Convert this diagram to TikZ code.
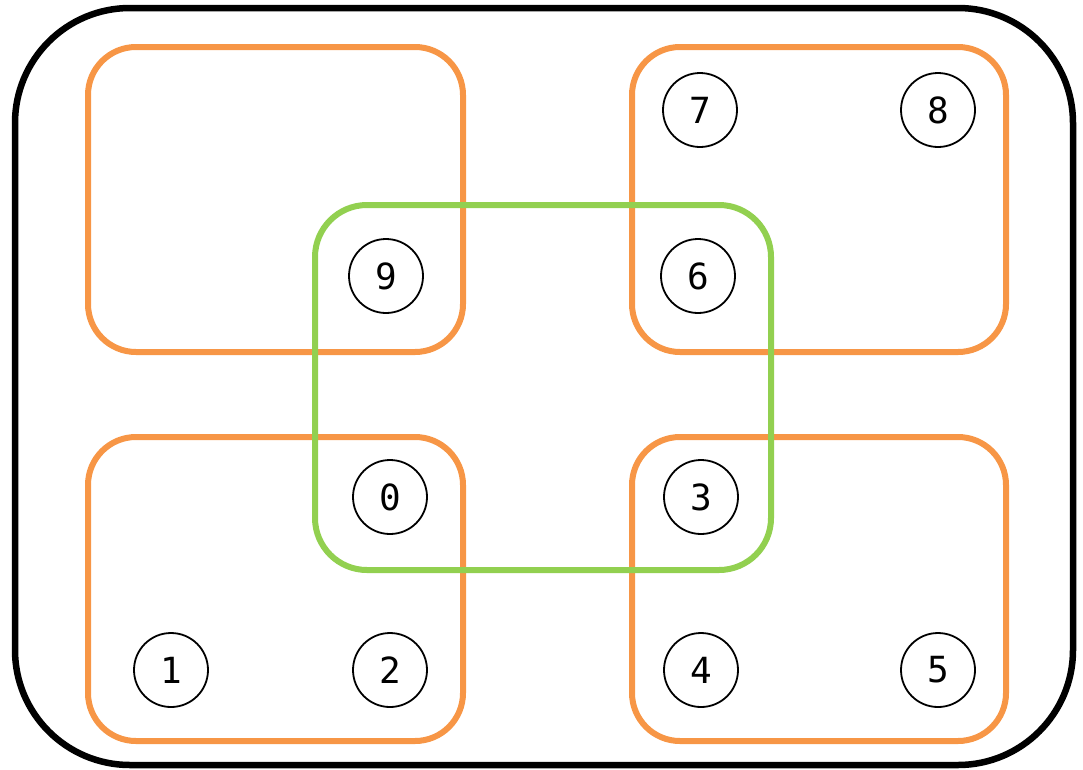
\documentclass[tikz,border=0pt]{standalone}
\usepackage{fontspec}
\setmonofont{DejaVu Sans Mono}
\definecolor{setorange}{HTML}{F79646}
\definecolor{setgreen}{HTML}{92D050}
\begin{document}
\begin{tikzpicture}[x=1pt,y=-1pt,
  universe/.style={draw=black,line width=6.5pt,rounded corners=115pt},
  orangeset/.style={draw=setorange,line width=6pt,rounded corners=48pt},
  greenset/.style={draw=setgreen,line width=6pt,rounded corners=52pt},
  elem/.style={draw=black,line width=1.8pt,circle,minimum size=74pt,inner sep=0pt,
    font=\ttfamily\fontsize{36}{36}\selectfont}]
\useasboundingbox (0,0) rectangle (1083,769);
% universe
\draw[universe] (15,8) rectangle (1073,765);
% four orange groups
\draw[orangeset] (88,47) rectangle (463,352);
\draw[orangeset] (632,47) rectangle (1006,352);
\draw[orangeset] (88,437) rectangle (463,741);
\draw[orangeset] (632,437) rectangle (1006,741);
% central green group
\draw[greenset] (315,205) rectangle (771,570);
% elements
\node[elem] (n7) at (700,110) {7};
\node[elem] (n8) at (938,110) {8};
\node[elem] (n9) at (386,276) {9};
\node[elem] (n6) at (698,276) {6};
\node[elem] (n0) at (390,497) {0};
\node[elem] (n3) at (701,497) {3};
\node[elem] (n1) at (171,670) {1};
\node[elem] (n2) at (390,670) {2};
\node[elem] (n4) at (701,670) {4};
\node[elem] (n5) at (938,670) {5};
\end{tikzpicture}
\end{document}
